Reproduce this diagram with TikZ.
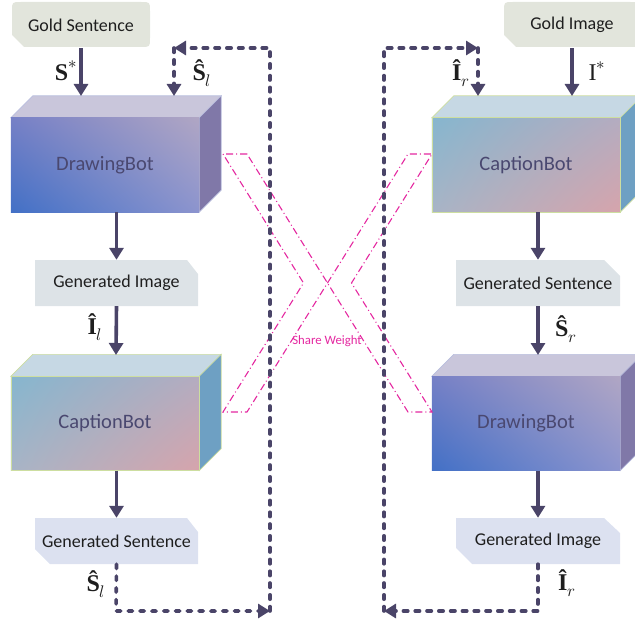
\documentclass[tikz,border=0pt]{standalone}
\usepackage{fontspec}
\usepackage{unicode-math}
\setmainfont{Carlito}
\setmathfont{Latin Modern Math}
\newfontfamily\lserif{Liberation Serif}
\usetikzlibrary{arrows.meta,calc,shadings}
\pgfdeclarelayer{bg}
\pgfsetlayers{bg,main}
\definecolor{arrowc}{RGB}{74,68,104}
\definecolor{labelc}{RGB}{30,30,30}
\definecolor{botc}{RGB}{74,72,112}
\definecolor{goldc}{RGB}{226,229,220}
\definecolor{graybox}{RGB}{221,227,231}
\definecolor{lavbox}{RGB}{220,225,240}
\definecolor{sharec}{RGB}{228,40,160}
\definecolor{dbtop}{RGB}{201,198,219}
\definecolor{dbside}{RGB}{128,120,168}
\definecolor{dbedge}{RGB}{185,190,222}
\definecolor{cbtop}{RGB}{198,216,228}
\definecolor{cbside}{RGB}{110,160,195}
\definecolor{cbedge}{RGB}{205,222,160}
\definecolor{dbll}{RGB}{66,112,198}
\definecolor{dbul}{RGB}{118,128,198}
\definecolor{dbur}{RGB}{176,166,196}
\definecolor{dblr}{RGB}{140,148,206}
\definecolor{cbll}{RGB}{168,180,198}
\definecolor{cbul}{RGB}{134,182,206}
\definecolor{cbur}{RGB}{180,172,192}
\definecolor{cblr}{RGB}{214,164,172}
\newcommand{\symlbl}[3]{${\hbox{\lserif#1 #2}}#3$}
\tikzset{
  arr/.style={line width=3.6pt, draw=arrowc, -{Triangle[width=14pt,length=12pt]}},
  darr/.style={line width=3.6pt, draw=arrowc, line cap=round, dash pattern=on 4.4pt off 7.4pt, -{Triangle[width=14pt,length=12pt]}},
  boxtext/.style={text=labelc, inner sep=0pt, minimum height=46pt},
  botlbl/.style={font=\fontsize{20.5}{23}\selectfont, text=botc, inner sep=0pt, minimum width=188pt, minimum height=94pt},
  mlbl/.style={font=\fontsize{24}{28}\selectfont, text=labelc, inner sep=0pt},
  share/.style={draw=sharec, line width=1.1pt, dash pattern=on 7pt off 3pt on 1pt off 3pt},
}
\newcommand{\dbbox}[1]{%
  \fill[dbtop, draw=dbedge, line width=0.6pt] (#1.north west) -- ++(22,-22) -- ($(#1.north east)+(22,-22)$) -- (#1.north east) -- cycle;
  \fill[dbside, draw=dbedge, line width=0.6pt] (#1.north east) -- ++(22,-22) -- ($(#1.south east)+(22,-22)$) -- (#1.south east) -- cycle;
  \shade[lower left=dbll, upper left=dbul, upper right=dbur, lower right=dblr]
         (#1.south west) rectangle (#1.north east);
}
\newcommand{\cbbox}[1]{%
  \fill[cbtop, draw=cbedge, line width=0.6pt] (#1.north west) -- ++(22,-22) -- ($(#1.north east)+(22,-22)$) -- (#1.north east) -- cycle;
  \fill[cbside, draw=cbedge, line width=0.6pt] (#1.north east) -- ++(22,-22) -- ($(#1.south east)+(22,-22)$) -- (#1.south east) -- cycle;
  \shade[lower left=cbll, upper left=cbul, upper right=cbur, lower right=cblr]
         (#1.south west) rectangle (#1.north east);
  \draw[cbedge, line width=0.6pt] (#1.south west) rectangle (#1.north east);
}
\begin{document}
\begin{tikzpicture}[x=1pt,y=-1pt]
\useasboundingbox (0,0) rectangle (635,623);

% ---- box backgrounds ----
\fill[goldc] (12,35) -- (12,11) .. controls (12,2) .. (21,2) -- (141,2) .. controls (150,2) .. (150,11) -- (150,38) .. controls (150,47) .. (141,47) -- (24,47) -- cycle;
\fill[goldc] (504,35) -- (504,11) .. controls (504,2) .. (513,2) -- (630,2) .. controls (639,2) .. (639,11) -- (639,38) .. controls (639,47) .. (630,47) -- (516,47) -- cycle;
\fill[graybox] (35,260) -- (187,260) -- (198,274) -- (198,306) -- (35,306) -- cycle;
\fill[lavbox] (35,518) -- (187,518) -- (198,532) -- (198,564) -- (50,564) -- (35,549) -- cycle;
\fill[graybox] (456,260) -- (604,260) -- (620,276) -- (620,306) -- (456,306) -- cycle;
\fill[lavbox] (456,518) -- (604,518) -- (620,533) -- (620,564) -- (472,564) -- (456,548) -- cycle;

% ---- text nodes ----
\node[boxtext, font=\fontsize{18}{20}\selectfont, minimum width=138pt] (gs) at (81,25) {Gold Sentence};
\node[boxtext, font=\fontsize{18}{20}\selectfont, minimum width=134pt] (gimg) at (572,25) {Gold Image};
\node[boxtext, font=\fontsize{18}{20}\selectfont, minimum width=163pt] (gi1) at (116.5,283) {Generated Image};
\node[boxtext, font=\fontsize{18}{20}\selectfont, minimum width=163pt] (gsen1) at (116.5,541) {Generated Sentence};
\node[boxtext, font=\fontsize{18}{20}\selectfont, minimum width=164pt] (gsen2) at (538,283) {Generated Sentence};
\node[boxtext, font=\fontsize{18}{20}\selectfont, minimum width=164pt] (gi2) at (538,541) {Generated Image};

% ---- 3D bots ----
\node[botlbl] (db1) at (105,165) {DrawingBot};
\node[botlbl] (cb1) at (105,423.5) {CaptionBot};
\node[botlbl] (cb2) at (526,165) {CaptionBot};
\node[botlbl] (db2) at (526,423.5) {DrawingBot};
\begin{pgfonlayer}{bg}
\dbbox{db1}
\cbbox{cb1}
\cbbox{cb2}
\dbbox{db2}
\end{pgfonlayer}

% ---- share weight ----
\draw[share] (247,154) -- (223,154) -- (303.5,283) -- (223,412) -- (247,412) -- (408,154) -- (432,154) -- (351.5,283) -- (432,412) -- (408,412) -- cycle;
\node[font=\fontsize{12.8}{14}\selectfont, text=sharec, inner sep=0pt] (sw) at (327,341) {Share Weight};

% ---- coordinates ----
\coordinate (db1a) at (81,96);
\coordinate (db1b) at (174,96);
\coordinate (cb1a) at (116,355);
\coordinate (cb2a) at (478,96);
\coordinate (cb2b) at (572,96);
\coordinate (db2a) at (538,355);
\coordinate (l1) at (116,611);
\coordinate (l2) at (270,611);
\coordinate (l3) at (270,48);
\coordinate (l4) at (174,48);
\coordinate (r1) at (538,611);
\coordinate (r2) at (384,611);
\coordinate (r3) at (384,48);
\coordinate (r4) at (478,48);

% ---- solid arrows ----
\draw[arr] (gs.south -| db1a) -- (db1a);
\draw[arr] (gi1.north |- db1.south) -- (gi1.north);
\draw[arr] (gi1.south) -- (cb1a);
\draw[arr] (gsen1.north |- cb1.south) -- (gsen1.north);
\draw[arr] (gimg.south) -- (cb2b);
\draw[arr] (gsen2.north |- cb2.south) -- (gsen2.north);
\draw[arr] (gsen2.south) -- (db2a);
\draw[arr] (gi2.north |- db2.south) -- (gi2.north);

% ---- dashed loops ----
\draw[darr] (gsen1.south) -- (l1) -- (l2);
\draw[darr] (l2) -- (l3) -- (l4);
\draw[darr] (l4) -- (db1b);
\draw[darr] (gi2.south) -- (r1) -- (r2);
\draw[darr] (r2) -- (r3) -- (r4);
\draw[darr] (r4) -- (cb2a);

% ---- math labels ----
\node[mlbl] (ls1) at (63,71) {\symlbl{\bfseries}{S}{^{*}}};
\node[mlbl] (ls2) at (199,73) {\symlbl{\bfseries}{Ŝ}{_{l}}};
\node[mlbl] (li1) at (92,327) {\symlbl{\bfseries}{Î}{_{l}}};
\node[mlbl] (ls3) at (93,584) {\symlbl{\bfseries}{Ŝ}{_{l}}};
\node[mlbl] (li2) at (458,73) {\symlbl{\bfseries}{Î}{_{r}}};
\node[mlbl] (li3) at (594,71) {\symlbl{}{I}{^{*}}};
\node[mlbl] (ls4) at (563,329) {\symlbl{\bfseries}{Ŝ}{_{r}}};
\node[mlbl] (li4) at (564,583) {\symlbl{\bfseries}{Î}{_{r}}};
\end{tikzpicture}
\end{document}
